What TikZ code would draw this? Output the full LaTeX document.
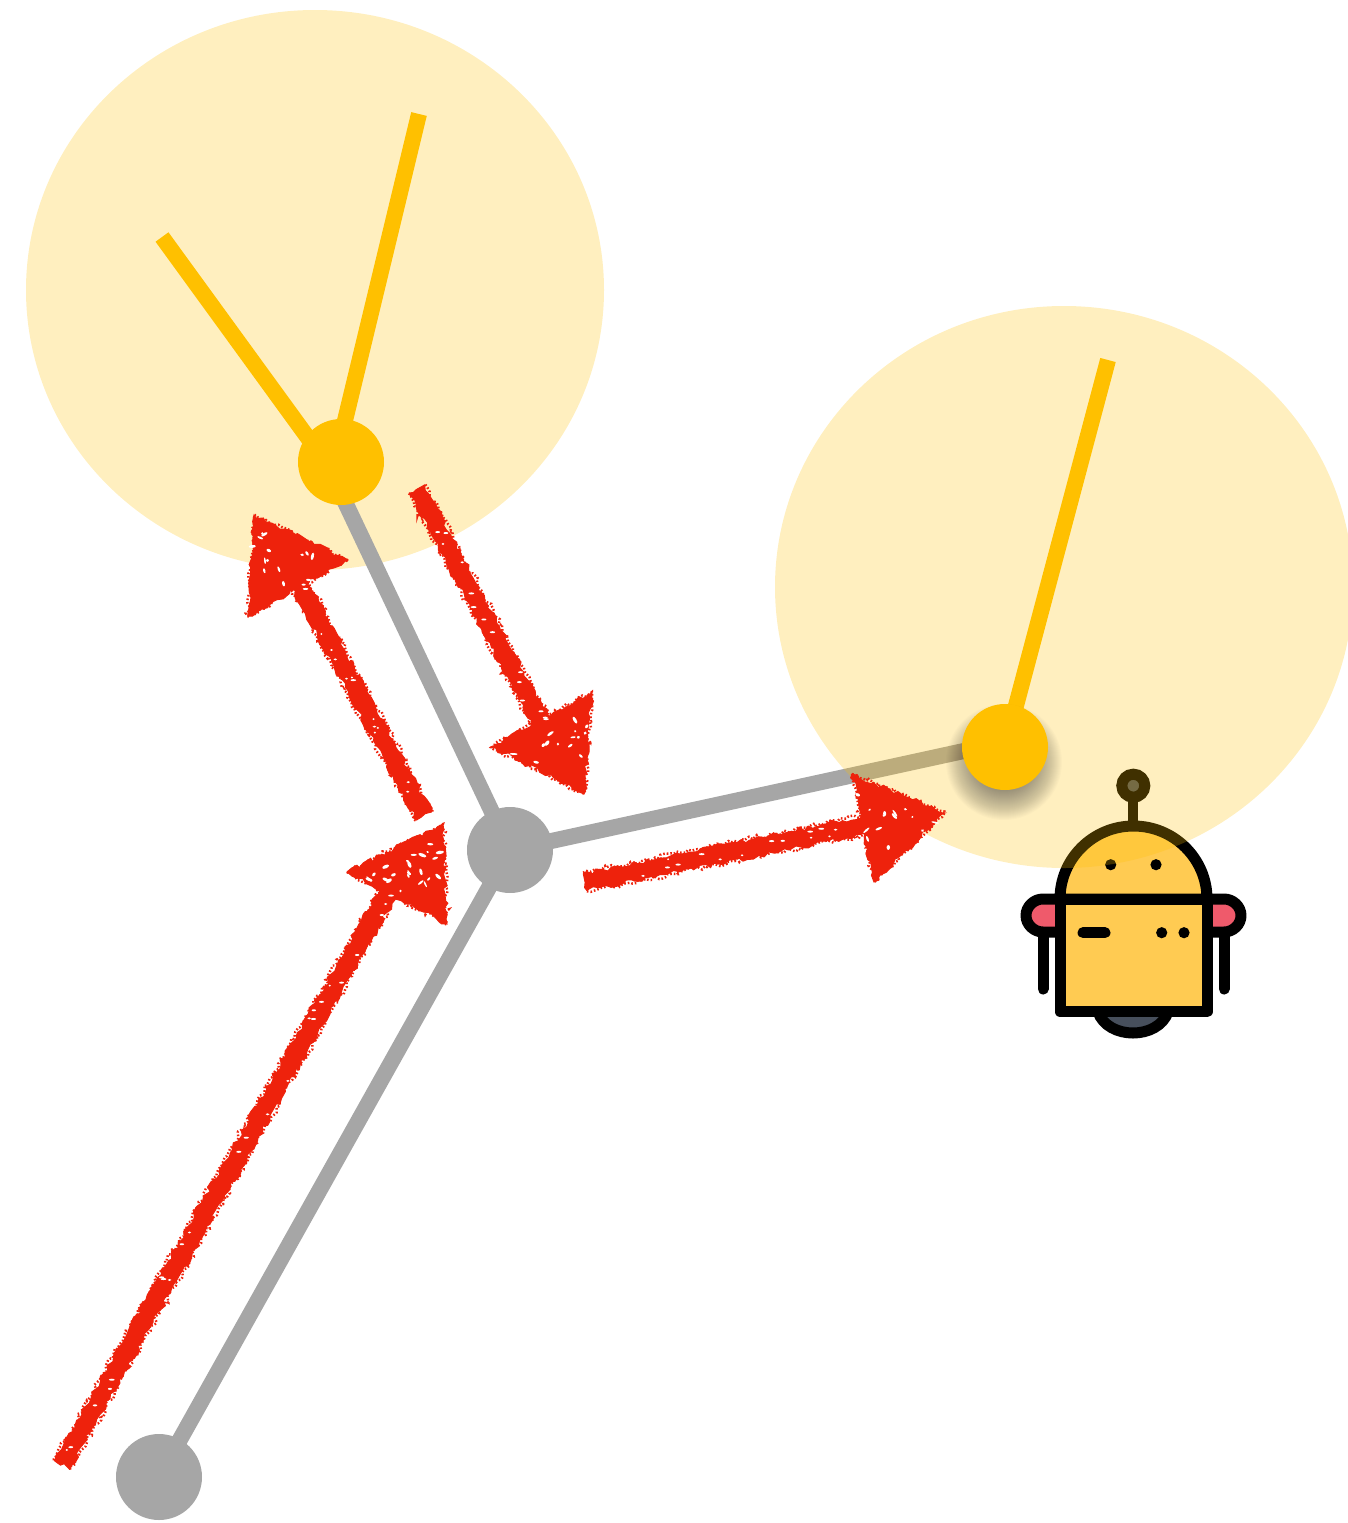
\documentclass[tikz,border=0pt]{standalone}
\usetikzlibrary{calc,decorations.pathmorphing}
\pgfdeclarelayer{base}\pgfdeclarelayer{robot}\pgfdeclarelayer{veil}\pgfdeclarelayer{sticks}\pgfdeclarelayer{chalk}
\pgfsetlayers{base,robot,veil,sticks,main,chalk}
\definecolor{amber}{HTML}{FFC000}
\definecolor{pale}{HTML}{FFC000}
\definecolor{stone}{HTML}{A6A6A6}
\definecolor{redchalk}{HTML}{EE220C}
\definecolor{botbody}{HTML}{FFCB52}
\definecolor{botear}{HTML}{EF5A6B}
\definecolor{botdark}{HTML}{474F5C}
\tikzset{
  x=1pt,y=-1pt,
  halo/.style={fill=pale,opacity=0.25},
  joint/.style={circle,inner sep=0pt,minimum size=86pt},
  amberjoint/.style={joint,fill=amber},
  stonejoint/.style={joint,fill=stone},
  stick/.style={draw=amber,line width=16pt},
  bar/.style={draw=stone,line width=16pt},
  botline/.style={draw=black,line width=11pt,line join=round,line cap=round},
  botdot/.style={fill=black},
  rough/.style={fill=redchalk,draw=redchalk,line width=1pt,decorate,decoration={random steps,segment length=5pt,amplitude=2.4pt}},
  fringe/.style={draw=redchalk,line width=2.4pt,dash pattern=on 1.6pt off 2pt,decorate,decoration={random steps,segment length=3.5pt,amplitude=2.6pt}},
  speck/.style={fill=white}
}
% tail, base, head corner 1, tip, corner 2, number of specks
\newcommand\chalkarrow[6]{%
  \coordinate (t) at (#1);\coordinate (b) at (#2);
  \coordinate (h1) at (#3);\coordinate (h2) at (#4);\coordinate (h3) at (#5);
  \path[rough] ($(t)!8.5pt!90:(b)$) -- ($(b)!9pt!-90:(t)$) -- ($(b)!9pt!90:(t)$) -- ($(t)!8.5pt!-90:(b)$) -- cycle;
  \path[fringe] ($(t)!9.5pt!90:(b)$) -- ($(b)!9.5pt!-90:(t)$);
  \path[fringe] ($(t)!9.5pt!-90:(b)$) -- ($(b)!9.5pt!90:(t)$);
  \path[rough] (h1) -- (h2) -- (h3) -- cycle;
  \path[fringe] (h1) -- (h2) -- (h3) -- cycle;
  \foreach \i in {1,...,#6}{%
    \pgfmathsetmacro\ua{rnd}\pgfmathsetmacro\ub{0.2+0.75*rnd}%
    \pgfmathsetmacro\rx{1.2+3*rnd}\pgfmathsetmacro\ry{0.8+1*rnd}\pgfmathsetmacro\rr{rnd*180}%
    \path ($(h1)!\ua!(h2)$) coordinate (p);
    \fill[speck,rotate around={\rr:($(h3)!{sqrt(\ub)*0.9}!(p)$)}] ($(h3)!{sqrt(\ub)*0.9}!(p)$) ellipse [x radius=\rx pt,y radius=\ry pt];
  }%
  \foreach \i in {1,...,#6}{%
    \pgfmathsetmacro\ua{rnd}\pgfmathsetmacro\ub{-6.5+13*rnd}\pgfmathsetmacro\rx{1+2*rnd}%
    \path ($(t)!\ua!(b)$) coordinate (p);
    \fill[speck] ($(p)!\ub pt!90:(b)$) ellipse [x radius=\rx pt,y radius=1.0pt];
  }%
}
\begin{document}
\begin{tikzpicture}
\useasboundingbox (0,0) rectangle (1347,1523);

\node[amberjoint] (topj) at (341,462) {};
\node[amberjoint] (rightj) at (1005,747) {};
\node[stonejoint] (midj) at (510,850) {};
\node[stonejoint] (lowj) at (159,1477) {};
\coordinate (tipa) at (419,114);
\coordinate (tipb) at (162,237);
\coordinate (tipc) at (1108,360);
\coordinate (rootl) at ($(topj.center)+(-14,2)$);
\coordinate (rootr) at ($(topj.center)+(-6,0)$);
\coordinate (rootg) at ($(rightj.center)+(0,-5)$);

\begin{pgfonlayer}{base}
  \fill[halo] (315,290) ellipse [x radius=289pt,y radius=280pt];
  \draw[bar] (midj.center) -- (rootl);
  \draw[bar] (midj.center) -- (rootg);
  \draw[bar] (midj.center) -- (lowj.center);
\end{pgfonlayer}

\begin{pgfonlayer}{robot}
  % arms
  \draw[botline] (1043,932) -- (1043,989);
  \draw[botline] (1224,932) -- (1224,989);
  % ears
  \draw[botline,fill=botear] (1060,899) -- (1043,899) .. controls (1034,899) and (1026,906.4) .. (1026,915.5) .. controls (1026,924.6) and (1034,932) .. (1043,932) -- (1060,932);
  \draw[botline,fill=botear] (1207,899) -- (1224,899) .. controls (1233,899) and (1241,906.4) .. (1241,915.5) .. controls (1241,924.6) and (1233,932) .. (1224,932) -- (1207,932);
  % wheel
  \draw[botline,fill=botdark] (1098,1012) .. controls (1108,1040) and (1158,1040) .. (1168,1012);
  % antenna
  \draw[draw=black,line width=10pt] (1133.3,800) -- (1133.3,828);
  \draw[draw=black,line width=11pt,fill=botdark] (1133.3,785.7) circle [radius=11.5pt];
  % dome and body
  \draw[botline,fill=botbody] (1060,899) .. controls (1060,858.7) and (1093,826) .. (1133.5,826) .. controls (1174,826) and (1207,858.7) .. (1207,899) -- cycle;
  \draw[botline,fill=botbody] (1060,899) -- (1060,1011.7) -- (1207,1011.7) -- (1207,899) -- cycle;
  % face
  \fill[botdot] (1110.7,864.7) circle [radius=5.6pt];
  \fill[botdot] (1156,864.7) circle [radius=5.6pt];
  \fill[botdot] (1161.7,932.7) circle [radius=5.6pt];
  \fill[botdot] (1184,932.7) circle [radius=5.6pt];
  \draw[botline] (1083,932.7) -- (1105,932.7);
\end{pgfonlayer}

\begin{pgfonlayer}{veil}
  \fill[halo] (1064,587) ellipse [x radius=289pt,y radius=281pt];
\end{pgfonlayer}

\begin{pgfonlayer}{sticks}
  \draw[stick] (rootr) -- (tipa);
  \draw[stick] (rootl) -- (tipb);
  \draw[stick] (rightj.center) -- (tipc);
  \foreach \r in {58,57,...,28}{
    \fill[black,opacity=0.016] (1004,762) circle [radius=\r pt];
  }
\end{pgfonlayer}

\begin{pgfonlayer}{chalk}
  \pgfmathsetseed{4242}
  \chalkarrow{62,1465}{390,889}{347,872}{443,824}{447,924}{24}
  \chalkarrow{424,816}{295,575}{348,560}{254,515}{248,616}{14}
  \chalkarrow{417,489}{548,735}{492,747}{592,692}{584,794}{14}
  \chalkarrow{585,882}{875,823}{852,774}{945,813}{874,882}{14}
\end{pgfonlayer}
\end{tikzpicture}
\end{document}
